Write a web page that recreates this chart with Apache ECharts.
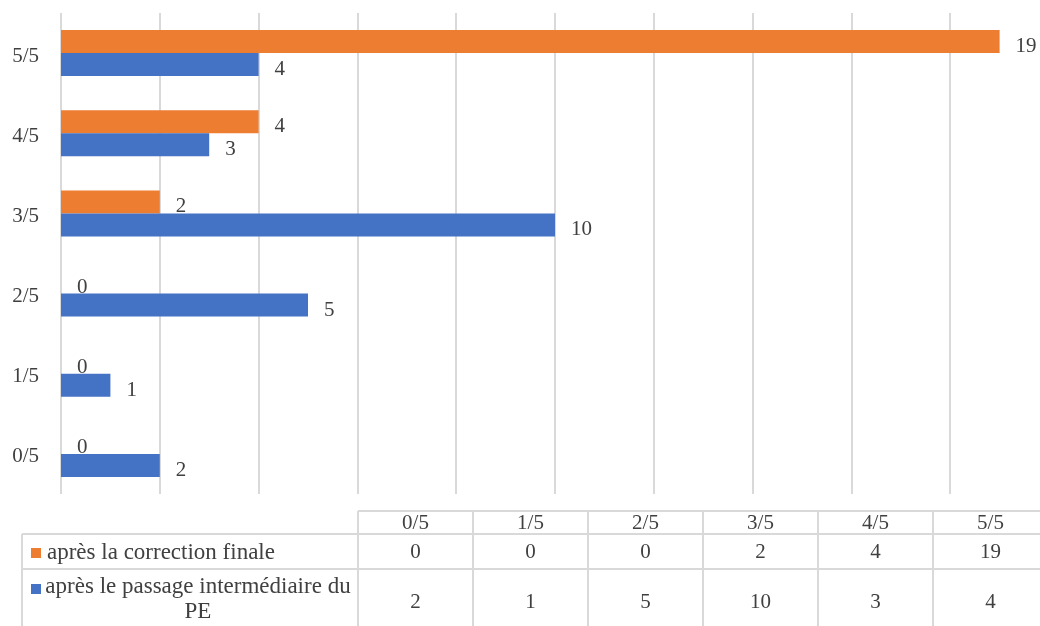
<!DOCTYPE html>
<html>
<head>
<meta charset="utf-8">
<script src="https://cdn.jsdelivr.net/npm/echarts@6/dist/echarts.min.js"></script>
<style>
html, body { margin: 0; padding: 0; background: #fff; }
#chart { width: 1040px; height: 626px; }
</style>
</head>
<body>
<div id="chart"></div>
<script>
// données
var notes = ['0/5', '1/5', '2/5', '3/5', '4/5', '5/5'];
var correctionFinale = [0, 0, 0, 2, 4, 19];
var passageIntermediaire = [2, 1, 5, 10, 3, 4];
var nomFinale = 'après la correction finale';
var nomIntermediaire = 'après le passage intermédiaire du PE';

var ORANGE = '#ED7D31';
var BLEU = '#4472C4';
var TEXTE = '#404040';
var TRAIT = '#D9D9D9';
var POLICE = '"Liberation Serif", "Times New Roman", serif';

/**
 * Construit le tableau de données sous le graphique
 */
function tableauDonnees() {
    var els = [];
    var gauche = 22, colDebut = 358, colLarg = 115;
    var yHaut = 511, yEntete = 534, yLigne1 = 569, yBas = 640;
    var droite = colDebut + colLarg * notes.length;
    var trait = { stroke: TRAIT, lineWidth: 2 };

    function ligne(x1, y1, x2, y2) {
        els.push({ type: 'line', shape: { x1: x1, y1: y1, x2: x2, y2: y2 }, style: trait, silent: true });
    }
    function texte(t, x, y, align, taille) {
        els.push({
            type: 'text', x: x, y: y,
            style: { text: t, fill: TEXTE, font: (taille || 21) + 'px ' + POLICE, align: align || 'center', verticalAlign: 'middle' }
        });
    }

    // traits horizontaux
    ligne(colDebut, yHaut, droite, yHaut);
    ligne(gauche, yEntete, droite, yEntete);
    ligne(gauche, yLigne1, droite, yLigne1);
    // traits verticaux
    ligne(gauche, yEntete, gauche, yBas);
    for (var i = 0; i <= notes.length; i++) {
        ligne(colDebut + i * colLarg, yHaut, colDebut + i * colLarg, yBas);
    }

    // entête et valeurs
    notes.forEach(function (n, i) {
        var cx = colDebut + i * colLarg + colLarg / 2;
        texte(n, cx, (yHaut + yEntete) / 2 + 1);
        texte(String(correctionFinale[i]), cx, (yEntete + yLigne1) / 2 + 1);
        texte(String(passageIntermediaire[i]), cx, 602);
    });

    // légendes
    els.push({ type: 'rect', shape: { x: 31, y: 548, width: 10, height: 10 }, style: { fill: ORANGE } });
    texte(nomFinale, 47, (yEntete + yLigne1) / 2 + 1, 'left', 23);
    els.push({ type: 'rect', shape: { x: 31, y: 584, width: 10, height: 10 }, style: { fill: BLEU } });
    var mots = nomIntermediaire.split(' ');
    texte(mots.slice(0, -1).join(' '), 198, 587, 'center', 23);
    texte(mots[mots.length - 1], 198, 612, 'center', 23);
    return els;
}

var chart = echarts.init(document.getElementById('chart'), null, { renderer: 'canvas' });
var etiquette = {
    show: true,
    position: 'right',
    distance: 16,
    offset: [0, 5],
    fontSize: 21,
    color: TEXTE,
    fontFamily: POLICE
};
var option = {
    animation: false,
    textStyle: { fontFamily: POLICE, color: TEXTE },
    grid: {
        left: 61,
        top: 13,
        width: 988,
        height: 481,
        containLabel: false,
        outerBoundsMode: 'none'
    },
    xAxis: {
        type: 'value',
        min: 0,
        max: 20,
        interval: 2,
        axisLabel: { show: false },
        axisLine: { show: false },
        axisTick: { show: false },
        splitLine: { show: true, lineStyle: { color: TRAIT, width: 2 } }
    },
    yAxis: {
        type: 'category',
        data: notes,
        axisLine: { show: false },
        axisTick: { show: false },
        axisLabel: {
            margin: 22,
            formatter: function (v) { return '{n|' + v + '}'; },
            rich: {
                n: { fontSize: 21, color: TEXTE, fontFamily: POLICE, padding: [6, 0, 0, 0] }
            }
        }
    },
    series: [
        {
            name: nomFinale,
            type: 'bar',
            data: correctionFinale,
            barWidth: 23,
            barGap: '0%',
            itemStyle: { color: ORANGE },
            label: etiquette
        },
        {
            name: nomIntermediaire,
            type: 'bar',
            data: passageIntermediaire,
            barWidth: 23,
            barGap: '0%',
            itemStyle: { color: BLEU },
            label: etiquette
        }
    ],
    graphic: tableauDonnees()
};
chart.setOption(option);
</script>
</body>
</html>
